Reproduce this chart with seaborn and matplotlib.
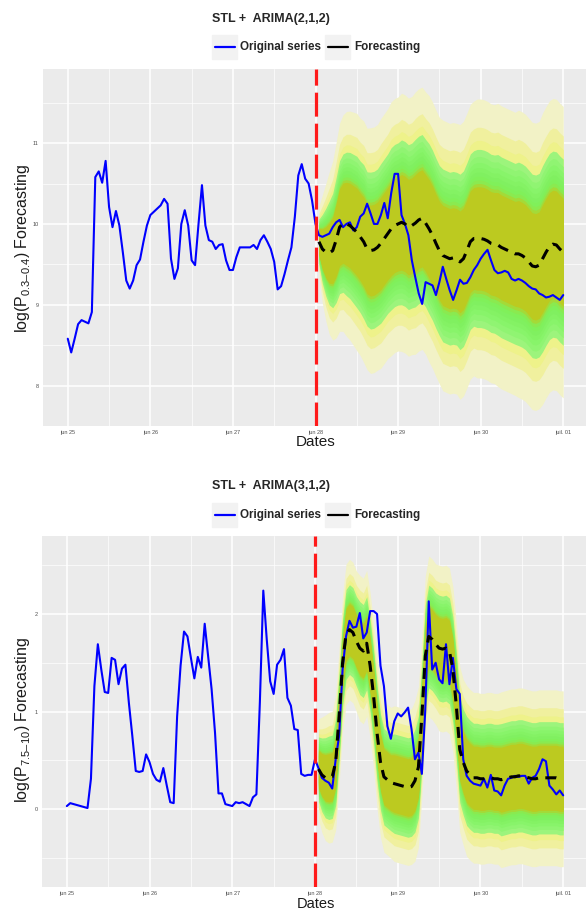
import numpy as np
import pandas as pd
import matplotlib
matplotlib.use("Agg")
import matplotlib.pyplot as plt
import seaborn as sns
from statistics import NormalDist
from matplotlib.lines import Line2D
from matplotlib.patches import Rectangle

# ---------------- data ----------------
start = "2016-06-25 00:00"
tick_labels = ["jun 25", "jun 26", "jun 27", "jun 28", "jun 29", "jun 30", "juil. 01"]

titles = ["STL +  ARIMA(2,1,2)", "STL +  ARIMA(3,1,2)"]
ylabels = [r"$\mathregular{log}\left(\mathregular{P}_{\mathregular{0.3–0.4}}\right)$ Forecasting",
           r"$\mathregular{log}\left(\mathregular{P}_{\mathregular{7.5–10}}\right)$ Forecasting"]
legend_labels = ["Original series", "Forecasting"]

# hourly observed series, jun 25 00:00 .. jul 01 00:00
top_obs = [8.58, 8.41, 8.58, 8.76, 8.81, 8.79, 8.77, 8.91, 10.58, 10.65, 10.51, 10.78,
           10.21, 9.96, 10.16, 9.98, 9.65, 9.30, 9.20, 9.30, 9.49, 9.56, 9.78, 9.98,
           10.11, 10.15, 10.19, 10.23, 10.31, 10.25, 9.57, 9.32, 9.45, 10.00, 10.17, 9.98,
           9.55, 9.49, 10.00, 10.48, 9.98, 9.80, 9.78, 9.69, 9.74, 9.75, 9.55, 9.43,
           9.43, 9.59, 9.71, 9.71, 9.71, 9.71, 9.74, 9.69, 9.80, 9.86, 9.78, 9.69,
           9.53, 9.19, 9.23, 9.38, 9.55, 9.71, 10.09, 10.60, 10.74, 10.56, 10.50, 10.29,
           10.00, 9.86, 9.84, 9.86, 9.88, 9.96, 10.02, 10.05, 9.96, 10.00, 10.02, 9.92,
           9.96, 10.09, 10.13, 10.25, 10.13, 10.00, 10.00, 10.11, 10.26, 10.07, 10.38, 10.62,
           10.62, 10.11, 10.00, 9.86, 9.55, 9.34, 9.14, 9.01, 9.28, 9.26, 9.24, 9.12,
           9.28, 9.47, 9.32, 9.18, 9.06, 9.18, 9.31, 9.26, 9.27, 9.34, 9.43, 9.49,
           9.57, 9.63, 9.68, 9.55, 9.43, 9.39, 9.40, 9.42, 9.40, 9.32, 9.30, 9.32,
           9.30, 9.27, 9.23, 9.20, 9.19, 9.14, 9.12, 9.09, 9.10, 9.12, 9.09, 9.06, 9.12]
# forecast mean and spread, jun 28 01:00 .. jul 01 00:00
top_fc = [9.78, 9.69, 9.65, 9.64, 9.67, 9.80, 9.96, 10.01, 10.00, 9.98, 9.94, 9.90,
          9.84, 9.78, 9.69, 9.67, 9.68, 9.71, 9.76, 9.82, 9.88, 9.94, 9.98, 10.00,
          10.02, 10.00, 9.96, 9.98, 10.01, 10.05, 10.07, 10.01, 9.94, 9.86, 9.76, 9.67,
          9.61, 9.59, 9.57, 9.58, 9.57, 9.53, 9.57, 9.67, 9.78, 9.82, 9.82, 9.82,
          9.81, 9.79, 9.76, 9.75, 9.74, 9.71, 9.69, 9.67, 9.65, 9.63, 9.63, 9.61,
          9.58, 9.53, 9.48, 9.47, 9.49, 9.57, 9.65, 9.72, 9.75, 9.74, 9.69, 9.65]
top_sigma = [0.17, 0.26, 0.33, 0.39, 0.43, 0.47, 0.50, 0.52, 0.54, 0.55, 0.56, 0.57,
             0.57, 0.58, 0.58, 0.59, 0.59, 0.59, 0.60, 0.60, 0.60, 0.61, 0.61, 0.61,
             0.62, 0.62, 0.62, 0.62, 0.63, 0.63, 0.63, 0.63, 0.64, 0.64, 0.64, 0.64,
             0.65, 0.65, 0.65, 0.65, 0.65, 0.66, 0.66, 0.66, 0.66, 0.66, 0.67, 0.67,
             0.67, 0.67, 0.67, 0.67, 0.68, 0.68, 0.68, 0.68, 0.68, 0.68, 0.69, 0.69,
             0.69, 0.69, 0.69, 0.69, 0.69, 0.70, 0.70, 0.70, 0.70, 0.70, 0.70, 0.70]

bot_obs = [0.03, 0.06, 0.05, 0.04, 0.03, 0.02, 0.01, 0.31, 1.26, 1.69, 1.43, 1.20,
           1.19, 1.55, 1.53, 1.28, 1.44, 1.48, 1.09, 0.75, 0.39, 0.38, 0.39, 0.56,
           0.48, 0.36, 0.30, 0.28, 0.42, 0.24, 0.07, 0.06, 0.95, 1.47, 1.82, 1.77,
           1.55, 1.34, 1.56, 1.45, 1.90, 1.57, 1.23, 0.78, 0.16, 0.16, 0.05, 0.04,
           0.03, 0.07, 0.06, 0.07, 0.05, 0.03, 0.12, 0.15, 1.09, 2.24, 1.74, 1.31,
           1.18, 1.48, 1.53, 1.64, 1.14, 1.06, 0.82, 0.81, 0.36, 0.34, 0.35, 0.35,
           0.51, 0.42, 0.32, 0.29, 0.27, 0.21, 0.51, 0.75, 1.43, 1.77, 1.93, 1.86,
           1.87, 2.01, 1.75, 1.81, 2.03, 2.03, 2.00, 1.47, 1.26, 0.85, 0.72, 0.90,
           0.98, 0.95, 0.99, 1.04, 0.82, 0.51, 0.58, 0.36, 1.02, 2.13, 1.43, 1.50,
           1.33, 1.29, 1.69, 1.28, 1.55, 1.23, 1.18, 0.51, 0.34, 0.29, 0.26, 0.25,
           0.24, 0.31, 0.22, 0.35, 0.19, 0.18, 0.14, 0.24, 0.31, 0.32, 0.34, 0.33,
           0.34, 0.34, 0.26, 0.32, 0.34, 0.41, 0.51, 0.49, 0.24, 0.20, 0.15, 0.19, 0.14]
bot_fc = [0.41, 0.35, 0.32, 0.32, 0.33, 0.48, 0.95, 1.50, 1.79, 1.84, 1.81, 1.72,
          1.65, 1.62, 1.70, 1.47, 1.16, 0.78, 0.48, 0.33, 0.30, 0.27, 0.26, 0.25,
          0.24, 0.23, 0.22, 0.23, 0.29, 0.43, 0.95, 1.57, 1.77, 1.74, 1.69, 1.65,
          1.64, 1.65, 1.62, 1.43, 1.06, 0.61, 0.48, 0.39, 0.35, 0.32, 0.32, 0.31,
          0.31, 0.32, 0.32, 0.31, 0.31, 0.30, 0.31, 0.32, 0.33, 0.33, 0.34, 0.34,
          0.33, 0.32, 0.31, 0.31, 0.32, 0.32, 0.32, 0.32, 0.32, 0.32, 0.31, 0.31]
bot_sigma = [0.20, 0.23, 0.25, 0.26, 0.26, 0.27, 0.27, 0.27, 0.28, 0.28, 0.28, 0.28,
             0.29, 0.29, 0.29, 0.29, 0.29, 0.30, 0.30, 0.30, 0.30, 0.30, 0.31, 0.31,
             0.31, 0.31, 0.31, 0.31, 0.32, 0.32, 0.32, 0.32, 0.32, 0.32, 0.32, 0.33,
             0.33, 0.33, 0.33, 0.33, 0.33, 0.33, 0.33, 0.34, 0.34, 0.34, 0.34, 0.34,
             0.34, 0.34, 0.34, 0.34, 0.34, 0.35, 0.35, 0.35, 0.35, 0.35, 0.35, 0.35,
             0.35, 0.35, 0.35, 0.35, 0.35, 0.35, 0.35, 0.35, 0.35, 0.35, 0.35, 0.35]

fan_levels = [51, 54, 57, 60, 63, 66, 69, 72, 75, 78, 81, 84, 87, 90, 93, 96, 99]
fan_colors = ["#BCCA20", "#BCCA20", "#BCCA20", "#BCCA20", "#BCCA20", "#BCCA20",
              "#A4DA38", "#8AEA50", "#80F05A", "#80F060", "#84F264", "#88F46A",
              "#90F472", "#9CF47C", "#EEF28A", "#F0F09E", "#F2F2C6"]

top_yticks = [8, 9, 10, 11]
top_yminor = [7.5, 8.5, 9.5, 10.5, 11.5]
bot_yticks = [0, 1, 2]
bot_yminor = [-0.5, 0.5, 1.5, 2.5]

# ---------------- style ----------------
sns.set_theme(style="darkgrid", rc={"axes.facecolor": "#EBEBEB", "figure.facecolor": "white"})
plt.rcParams["font.family"] = ["Liberation Sans", "DejaVu Sans"]
plt.rcParams["mathtext.fontset"] = "custom"
plt.rcParams["mathtext.rm"] = "Liberation Sans"

W, H = 586, 911
fig = plt.figure(figsize=(W / 100, H / 100), dpi=100)


def fx(px):
    return px / W


def fy(py):
    return 1 - py / H


def panel(ax, obs, fc, sig, ylim, yticks, yminor):
    t_obs = pd.date_range(start, periods=len(obs), freq="h")
    t_fc = t_obs[-len(fc):]
    fc = np.asarray(fc)
    sig = np.asarray(sig)
    for lvl, col in reversed(list(zip(fan_levels, fan_colors))):
        z = NormalDist().inv_cdf(0.5 + lvl / 200)
        ax.fill_between(t_fc, fc - z * sig, fc + z * sig, color=col, lw=0, zorder=1)
    sns.lineplot(x=t_obs, y=obs, ax=ax, color="#0000FF", lw=1.5, zorder=3)
    sns.lineplot(x=t_fc, y=fc, ax=ax, color="black", lw=2.2, zorder=4)
    ax.lines[-1].set_dashes([3.6, 2.4])
    ax.axvline(t_obs[len(obs) - len(fc) - 1], color="#FF1A1A", lw=2.3,
               dashes=(7.5, 2.2), zorder=5)
    day = pd.Timedelta(hours=24)
    ax.set_xlim(t_obs[0] - 0.3 * day, t_obs[-1] + 0.3 * day)
    ax.set_ylim(*ylim)
    majors = pd.date_range(start, periods=len(tick_labels), freq="D")
    ax.set_xticks(majors)
    ax.set_xticklabels(tick_labels)
    ax.set_xticks(majors[:-1] + 0.5 * day, minor=True)
    ax.set_yticks(yticks)
    ax.set_yticklabels([str(v) for v in yticks])
    ax.set_yticks(yminor, minor=True)
    ax.grid(which="major", color="white", lw=1.1)
    ax.grid(which="minor", color="white", lw=0.5)
    ax.tick_params(which="major", length=2, width=0.5, color="#333333",
                   labelsize=4, labelcolor="#4D4D4D", pad=1.2)
    ax.tick_params(which="minor", length=0)
    for s in ax.spines.values():
        s.set_visible(False)
    ax.set_xlabel("")
    ax.set_ylabel("")


ax1 = fig.add_axes([fx(43), fy(426), (588 - 43) / W, (426 - 69) / H])
panel(ax1, top_obs, top_fc, top_sigma, (7.504, 11.917), top_yticks, top_yminor)
ax2 = fig.add_axes([fx(42), fy(887), (588 - 42) / W, (887 - 536) / H])
panel(ax2, bot_obs, bot_fc, bot_sigma, (-0.80, 2.80), bot_yticks, bot_yminor)


def header(title, ty, ly):
    fig.text(fx(212), fy(ty), title, fontsize=9, fontweight="bold", ha="left", va="center")
    # legend keys
    for kx, col in [(212, "#0000FF"), (325, "black")]:
        fig.patches.append(Rectangle((fx(kx), fy(ly + 12)), 25 / W, 24 / H,
                                     transform=fig.transFigure, color="#F2F2F2", zorder=0))
        fig.add_artist(Line2D([fx(kx + 3), fx(kx + 23)], [fy(ly), fy(ly)],
                              transform=fig.transFigure, color=col, lw=1.6))
    fig.text(fx(240), fy(ly), legend_labels[0], fontsize=8.4, fontweight="bold",
             ha="left", va="center")
    fig.text(fx(354), fy(ly), legend_labels[1], fontsize=8.4, fontweight="bold",
             ha="left", va="center")


header(titles[0], 19, 47)
header(titles[1], 486, 515)

fig.text(fx(316), fy(442), "Dates", fontsize=11, ha="center", va="center", color="#1A1A1A")
fig.text(fx(316), fy(904), "Dates", fontsize=10.5, ha="center", va="center", color="#1A1A1A")
fig.text(fx(23), fy(248), ylabels[0], fontsize=11.5, rotation=90, ha="center", va="center",
         color="#1A1A1A")
fig.text(fx(23), fy(720), ylabels[1], fontsize=11.5, rotation=90, ha="center", va="center",
         color="#1A1A1A")

fig.savefig("out.png", dpi=100)
